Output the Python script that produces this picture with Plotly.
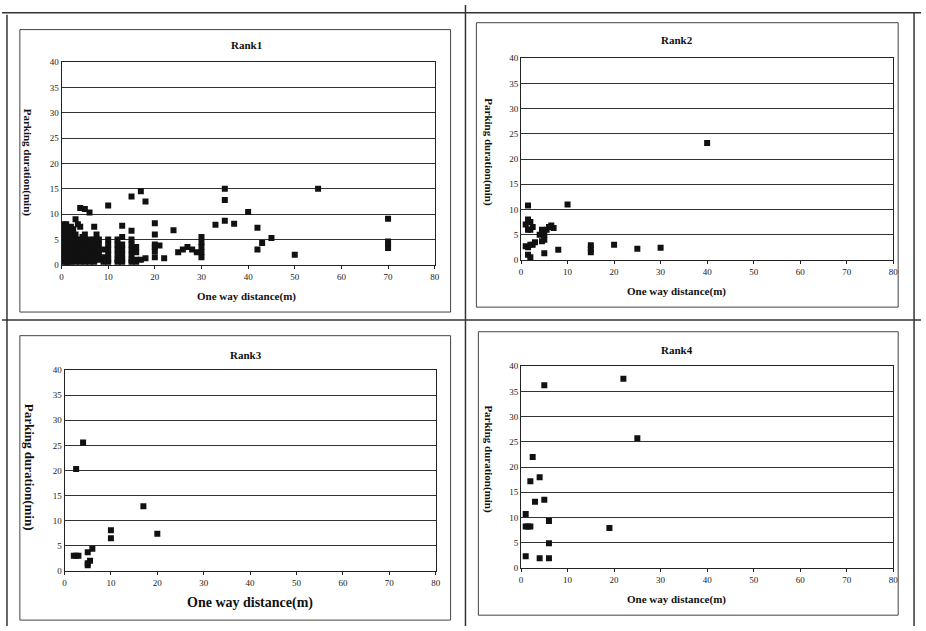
import plotly.graph_objects as go

W, H = 926, 631

# ---------------- data ----------------
rank1_x = [0.5]*9 + [1]*10 + [1.5]*7 + [2]*8 + [2.5]*6 + [3]*8 + [3.5]*4 + [4]*8 + [4.5]*3 + [5]*8 + [5.5]*2 + [6]*7 + [6.5]*2 + [7]*7 + [7.5]*2 + [8]*5 + [9]*3 + [10]*7 + [12]*6 + [13]*7 + [15]*8 + [16]*4 + [17]*2 + [18]*2 + [20]*6 + [21, 22, 24, 25, 26, 27, 28, 29] + [30]*5 + [33, 35, 35, 35, 37, 40, 42, 42, 43, 45, 50, 55] + [70]*4
rank1_y = [0.5, 1, 2, 3, 4, 5, 6, 7, 8,
           0.3, 1, 1.5, 2.5, 3.5, 4.5, 5.5, 6.5, 7.5, 8,
           0.5, 2, 3, 4, 5, 6, 7,
           0.5, 1, 2, 3, 4, 5, 6, 7.5,
           1.5, 2.5, 3.5, 4.5, 5.5, 7,
           0.5, 1, 2, 3, 4, 5, 6, 9,
           1.5, 2.5, 4.5, 8,
           0.5, 1, 2, 3, 4, 5, 7.5, 11.2,
           1.5, 3.5, 5.5,
           0.5, 1, 2, 3, 4, 5, 6, 11,
           2.5, 4.5,
           0.5, 1, 2, 3, 4, 5, 10.3,
           1.5, 3.5,
           0.5, 1, 2, 3, 4, 5, 7.5,
           2.5, 6,
           1, 2, 3, 4, 5,
           0.5, 1.5, 3,
           0.5, 1, 2, 3, 4, 5, 11.7,
           0.5, 1, 2, 3, 4, 5,
           0.5, 1, 2, 3, 4, 5.5, 7.7,
           0.5, 1, 2, 3, 4, 5, 6.7, 13.5,
           0.5, 1, 2.5, 3.5,
           14.5, 1,
           12.5, 1.3,
           1.5, 2.7, 3.5, 4, 6, 8.2,
           3.8, 1.3, 6.8, 2.5, 3, 3.5, 3, 2.5,
           1.5, 2.5, 3.5, 4.5, 5.5,
           7.9, 8.7, 12.8, 15, 8.1, 10.4, 7.3, 3, 4.3, 5.3, 2, 15,
           9.1, 3.3, 4.0, 4.6]

rank2_x = [40, 1.5, 10, 1, 1.5, 2, 2.5, 2, 1.5, 4, 4.5, 5, 5, 4.5, 5.5, 6, 7, 6.5,
           1, 1.5, 2, 2.5, 3, 2, 1.5, 5, 8, 15, 15, 15, 20, 25, 30]
rank2_y = [23.2, 10.8, 11, 7, 8, 7.5, 6.5, 6, 6, 5, 6, 5, 4, 3.7, 6, 6.5, 6.3, 6.8,
           2.7, 2.5, 3, 3, 3.5, 0.5, 1, 1.3, 2, 1.5, 2.2, 2.9, 3, 2.2, 2.4]

rank3_x = [4, 2.5, 17, 10, 10, 20, 2, 2.5, 3, 5, 6, 5.5, 5, 5]
rank3_y = [25.6, 20.3, 12.9, 8.1, 6.5, 7.4, 3, 3, 3, 3.7, 4.4, 2, 1.1, 1.5]

rank4_x = [5, 22, 25, 2.5, 2, 4, 3, 5, 1, 1, 1.5, 2, 6, 6, 19, 1, 4, 6]
rank4_y = [36.2, 37.5, 25.7, 22, 17.2, 18, 13.1, 13.5, 10.7, 8.2, 8.2, 8.2, 9.3, 4.9, 7.9, 2.3, 1.9, 1.9]

x_ticks = [0, 10, 20, 30, 40, 50, 60, 70, 80]
y_ticks = [0, 5, 10, 15, 20, 25, 30, 35, 40]
titles = ["Rank1", "Rank2", "Rank3", "Rank4"]
x_title = "One way distance(m)"
y_title = "Parking duration(min)"

# ---------------- layout helpers ----------------
def px(x):
    return x / W

def py(y):
    return 1 - y / H

# plot areas in pixels: (left, right, top, bottom)
areas = [(60, 436, 58, 264), (523, 898, 54, 259), (63, 437, 371, 575), (523, 898, 367, 572)]
series = [(rank1_x, rank1_y), (rank2_x, rank2_y), (rank3_x, rank3_y), (rank4_x, rank4_y)]

SERIF = "Liberation Serif"
fig = go.Figure()
layout = dict(width=W, height=H, margin=dict(l=0, r=0, t=0, b=0),
              paper_bgcolor="white", plot_bgcolor="white", showlegend=False)

for i, ((l, r, t, b), (xs, ys)) in enumerate(zip(areas, series)):
    n = "" if i == 0 else str(i + 1)
    fig.add_trace(go.Scatter(x=xs, y=ys, mode="markers", xaxis="x" + n, yaxis="y" + n,
                             marker=dict(symbol="square", size=6, color="#111111",
                                         line=dict(width=0))))
    layout["xaxis" + n] = dict(domain=[px(l), px(r)], range=[0, 80], anchor="y" + n,
                               tickvals=x_ticks, showgrid=False, zeroline=False,
                               showline=True, linecolor="#222", linewidth=1, mirror=True,
                               ticks="outside", ticklen=3, tickcolor="#222",
                               tickfont=dict(family=SERIF, size=9, color="#222"))
    layout["yaxis" + n] = dict(domain=[py(b), py(t)], range=[0, 40], anchor="x" + n,
                               tickvals=y_ticks, showgrid=True, gridcolor="#333333", gridwidth=1.2,
                               zeroline=False, showline=True, linecolor="#222", linewidth=1,
                               mirror=True, ticks="", ticklen=3,
                               tickfont=dict(family=SERIF, size=9, color="#222"))

fig.update_layout(**layout)

# annotations: titles and axis titles
title_pos = [(246, 41), (680, 36), (246, 356), (680, 351)]
xt_pos = [(246, 296, 11), (680, 291, 11), (250, 608, 14), (680, 604, 11)]
yt_pos = [(26, 160, 11), (490, 150, 11), (28, 470, 13), (490, 462, 11)]
for i in range(4):
    fig.add_annotation(x=px(title_pos[i][0]), y=py(title_pos[i][1]), xref="paper", yref="paper",
                       xanchor="center", yanchor="middle",
                       text="<b>%s</b>" % titles[i], showarrow=False,
                       font=dict(family=SERIF, size=11, color="#111"))
    fig.add_annotation(x=px(xt_pos[i][0]), y=py(xt_pos[i][1]), xref="paper", yref="paper",
                       xanchor="center", yanchor="middle",
                       text="<b>%s</b>" % x_title, showarrow=False,
                       font=dict(family=SERIF, size=xt_pos[i][2], color="#111"))
    fig.add_annotation(x=px(yt_pos[i][0]), y=py(yt_pos[i][1]), xref="paper", yref="paper",
                       xanchor="center", yanchor="middle",
                       text="<b>%s</b>" % y_title, showarrow=False, textangle=90,
                       font=dict(family=SERIF, size=yt_pos[i][2], color="#111"))

# chart-area boxes and cell frame lines
boxes = [(18, 452, 25, 312), (478, 903, 18, 307), (18, 452, 336, 625), (480, 903, 332, 620)]
for (x0, x1, y0, y1) in boxes:
    fig.add_shape(type="rect", xref="paper", yref="paper", x0=px(x0), x1=px(x1), y0=py(y1), y1=py(y0),
                  line=dict(color="#444", width=1))
frame_lines = [(467, 0, 467, 631), (0, 320, 926, 320), (5, 10, 5, 631), (0, 8, 926, 8), (919, 8, 919, 631)]
for (x0, y0, x1, y1) in frame_lines:
    fig.add_shape(type="line", xref="paper", yref="paper", x0=px(x0), x1=px(x1), y0=py(y0), y1=py(y1),
                  line=dict(color="#333", width=1.5))

fig.write_html("out.html", config={"displayModeBar": False},
               post_script="document.body.style.margin='0';")
